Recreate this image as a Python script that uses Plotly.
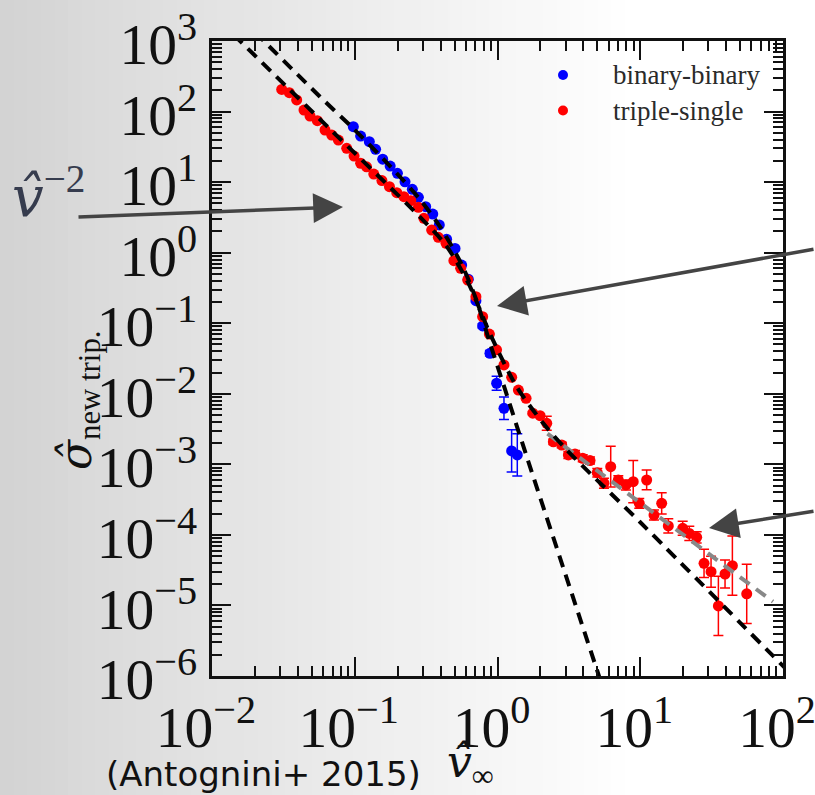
import plotly.graph_objects as go
import numpy as np

# ---------------- data ----------------
bb_v = [0.0977, 0.110, 0.1265, 0.140, 0.157, 0.177, 0.199, 0.225, 0.253, 0.279,
        0.314, 0.352, 0.391, 0.440, 0.504, 0.561, 0.624, 0.706, 0.787, 0.885,
        0.986, 1.11, 1.256, 1.376]
bb_sigma = [61.0, 45.0, 37.4, 29.2, 21.1, 16.9, 13.3, 10.1, 7.91, 6.09,
            4.48, 3.53, 2.47, 1.55, 1.15, 0.668, 0.42, 0.209, 0.0914, 0.0375,
            0.0141, 0.00622, 0.00155, 0.00136]
bb_err_dex = [0, 0, 0, 0, 0, 0, 0, 0, 0, 0,
              0, 0, 0, 0, 0, 0, 0.01, 0.02, 0.03, 0.04,
              0.10, 0.16, 0.30, 0.30]

ts_v = [0.0308, 0.0348, 0.0392, 0.0441, 0.0486, 0.0547, 0.0619, 0.069, 0.0768, 0.0879,
        0.0989, 0.110, 0.121, 0.136, 0.155, 0.175, 0.197, 0.221, 0.247, 0.279,
        0.305, 0.346, 0.385, 0.436, 0.495, 0.552, 0.619, 0.706, 0.787, 0.877,
        0.985, 1.11, 1.257, 1.40, 1.585, 1.766, 1.987, 2.213, 2.462, 2.818,
        3.136, 3.49, 3.954, 4.448, 5.00, 5.57, 6.21, 7.02, 7.94, 8.93,
        9.84, 11.09, 12.48, 14.13, 15.72, 19.83, 22.06, 24.85, 27.98, 31.33,
        35.27, 39.26, 44.2, 55.7]
ts_sigma = [206, 185, 146, 105, 86.5, 74.2, 54.8, 46.5, 39.5, 30.1,
            23.4, 18.5, 16.5, 13.0, 10.5, 8.6, 7.08, 6.21, 5.45, 4.40,
            3.07, 2.09, 1.65, 1.36, 0.769, 0.60, 0.41, 0.238, 0.124, 0.0703,
            0.042, 0.0256, 0.0171, 0.0113, 0.00863, 0.0053, 0.0049, 0.00382, 0.00209, 0.00188,
            0.00136, 0.0014, 0.00122, 0.00113, 0.000762, 0.00054, 0.000927, 0.0006, 0.00051, 0.000568,
            0.00028, 0.0006, 0.000191, 0.00028, 0.000134, 0.000124, 0.000105, 0.0000925, 0.0000396, 0.0000301,
            0.00000984, 0.0000279, 0.0000366, 0.0000146]
ts_err_dex = [0] * 34 + [0.02, 0.02, 0.02, 0.10, 0.04, 0.04,
                         0.05, 0.05, 0.05, 0.05, 0.06, 0.07, 0.29, 0.06, 0.07, 0.30,
                         0.07, 0.14, 0.07, 0.15, 0.10, 0.10, 0.10, 0.08, 0.20, 0.22,
                         0.42, 0.20, 0.42, 0.42]

# fitted model curves (anchor points)
fit_bb_v = [0.01995, 0.0571, 0.0977, 0.178, 0.282, 0.398, 0.562, 0.708, 0.891, 1.122, 1.413, 1.778, 5.623]
fit_bb_sigma = [1340, 162, 57.5, 16.6, 5.89, 2.29, 0.676, 0.219, 0.0501, 0.0120, 0.00282, 0.000676, 5.75e-7]

fit_ts_v = [0.01413, 0.0631, 0.286, 0.437, 0.631, 0.891, 1.36, 2.084, 3.055, 10.0, 112.2]
fit_ts_sigma = [1236, 63.7, 3.21, 1.26, 0.355, 0.0692, 0.01265, 0.00385, 0.0016, 0.000151, 1.096e-6]

fit_hi_v = [2.239, 85.1]
fit_hi_sigma = [0.00272, 1.13e-5]

legend_labels = ["binary-binary", "triple-single"]

# ---------------- geometry ----------------
W, H = 815, 795
L, R, T, B = 212, 783, 41, 676
pw, ph = R - L, B - T


def px2paper_x(px):
    return (px - L) / pw


def px2paper_y(py):
    return (B - py) / ph


def errs(vals, dex):
    v = np.array(vals, float)
    d = np.array(dex, float)
    return list(v * (10 ** d - 1)), list(v * (1 - 10 ** (-d)))


fig = go.Figure()

bb_up, bb_dn = errs(bb_sigma, bb_err_dex)
ts_up, ts_dn = errs(ts_sigma, ts_err_dex)

fig.add_trace(go.Scatter(
    x=bb_v, y=bb_sigma, mode="markers", name=legend_labels[0],
    marker=dict(color="#0000ff", size=11, line=dict(width=0)),
    error_y=dict(type="data", array=bb_up, arrayminus=bb_dn, color="#0000ff", thickness=1.5, width=5),
    showlegend=False))
fig.add_trace(go.Scatter(
    x=ts_v, y=ts_sigma, mode="markers", name=legend_labels[1],
    marker=dict(color="#ff0000", size=11, line=dict(width=0)),
    error_y=dict(type="data", array=ts_up, arrayminus=ts_dn, color="#ff0000", thickness=1.5, width=5),
    showlegend=False))

dash = "12px,8px"
fig.add_trace(go.Scatter(x=fit_hi_v, y=fit_hi_sigma, mode="lines",
                         line=dict(color="#888888", width=4, dash=dash), showlegend=False))
fig.add_trace(go.Scatter(x=fit_bb_v, y=fit_bb_sigma, mode="lines",
                         line=dict(color="#000000", width=4, dash=dash, shape="spline", smoothing=0.8),
                         showlegend=False))
fig.add_trace(go.Scatter(x=fit_ts_v, y=fit_ts_sigma, mode="lines",
                         line=dict(color="#000000", width=4, dash=dash, shape="spline", smoothing=0.8),
                         showlegend=False))

# ---------------- background gradient ----------------
shapes = []
N = 60
for i in range(N):
    x0 = i * W / N
    x1 = (i + 1) * W / N + 1
    xc = (x0 + x1) / 2
    g = int(round(min(255, 210 + 45 * (xc / 640) ** 0.9)))
    shapes.append(dict(type="rect", xref="paper", yref="paper",
                       x0=px2paper_x(x0), x1=px2paper_x(x1),
                       y0=px2paper_y(H + 2), y1=px2paper_y(-2),
                       fillcolor=f"rgb({g},{g},{g})", line=dict(width=0), layer="below"))

# legend markers
legend_colors = ["#0000ff", "#ff0000"]
legend_y = [75, 110.5]
for c, yy in zip(legend_colors, legend_y):
    shapes.append(dict(type="circle", xref="paper", yref="paper", xsizemode="pixel", ysizemode="pixel",
                       xanchor=px2paper_x(563), yanchor=px2paper_y(yy),
                       x0=-5, x1=5, y0=-5, y1=5, fillcolor=c, line=dict(width=0), layer="above"))

serif = "Liberation Serif"
hatfont = "DejaVu Serif"
annotations = []
for lab, yy in zip(legend_labels, legend_y):
    annotations.append(dict(text=lab, xref="paper", yref="paper", x=px2paper_x(611), y=px2paper_y(yy),
                            xanchor="left", yanchor="middle", showarrow=False,
                            font=dict(family=serif, size=27, color="#2a2a2a")))

# axis titles
annotations.append(dict(text=f"<span style='font-family:{hatfont}'><i>σ̂</i></span><sub>new trip.</sub>",
                        xref="paper", yref="paper",
                        x=px2paper_x(78), y=px2paper_y(400), textangle=-90,
                        xanchor="center", yanchor="middle", showarrow=False,
                        font=dict(family=serif, size=44, color="#111111")))
annotations.append(dict(text=f"<span style='font-family:{hatfont}'><i>v̂</i></span><sub>∞</sub>",
                        xref="paper", yref="paper",
                        x=px2paper_x(470), y=px2paper_y(764),
                        xanchor="center", yanchor="middle", showarrow=False,
                        font=dict(family=serif, size=44, color="#111111")))
annotations.append(dict(text="(Antognini+ 2015)", xref="paper", yref="paper",
                        x=px2paper_x(104), y=px2paper_y(774),
                        xanchor="left", yanchor="middle", showarrow=False,
                        font=dict(family="DejaVu Sans", size=34, color="#111111")))
annotations.append(dict(text=f"<span style='font-family:{hatfont}'><i>v̂</i></span><sup>−2</sup>",
                        xref="paper", yref="paper",
                        x=px2paper_x(10), y=px2paper_y(193),
                        xanchor="left", yanchor="middle", showarrow=False,
                        font=dict(family=serif, size=56, color="#363c4e")))

# arrows
arrows = [((343, 207), (77, 217)), ((497, 306), (830, 249)), ((709, 528), (830, 511))]
for (tx, ty), (sx, sy) in arrows:
    annotations.append(dict(text="", xref="paper", yref="paper", x=px2paper_x(tx), y=px2paper_y(ty),
                            ax=sx - tx, ay=sy - ty, axref="pixel", ayref="pixel",
                            showarrow=True, arrowhead=2, arrowsize=1.7, arrowwidth=3.5,
                            arrowcolor="#444444"))

axis_common = dict(
    type="log", showline=True, linecolor="#111111", linewidth=2.5, mirror="allticks",
    ticks="inside", ticklen=19, tickwidth=2, tickcolor="#111111",
    showgrid=False, zeroline=False, dtick=1, exponentformat="power",
    tickfont=dict(family=serif, size=46, color="#111111"),
    labelalias={"1": "10<sup>0</sup>", "10": "10<sup>1</sup>"},
    ticklabeloverflow="allow", automargin=False,
    minor=dict(ticks="inside", ticklen=10, tickwidth=1.5, tickcolor="#111111", dtick="D1", showgrid=False),
)

fig.update_layout(
    width=W, height=H,
    margin=dict(l=L, r=W - R, t=T, b=H - B, autoexpand=False),
    paper_bgcolor="rgba(0,0,0,0)", plot_bgcolor="rgba(0,0,0,0)",
    shapes=shapes, annotations=annotations, showlegend=False,
    xaxis=dict(range=[-2, 2], ticklabelstandoff=2, ticklabelshift=-6, **axis_common),
    yaxis=dict(range=[-6, 3], ticklabelstandoff=3, ticklabelshift=3, **axis_common),
)

fig.write_html("out.html")
